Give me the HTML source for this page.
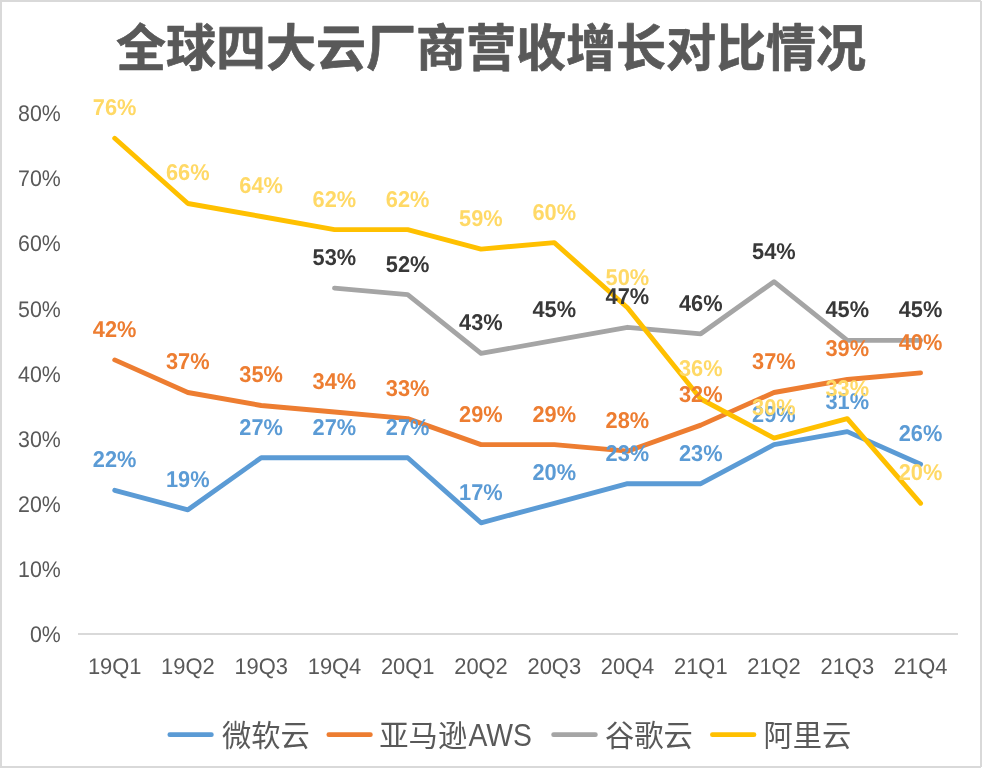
<!DOCTYPE html>
<html lang="zh-CN">
<head>
<meta charset="utf-8">
<title>全球四大云厂商营收增长对比情况</title>
<style>
html,body{margin:0;padding:0;background:#fff;}
body{width:982px;height:768px;overflow:hidden;position:relative;font-family:"Liberation Sans","Noto Sans CJK SC",sans-serif;}
#frame{position:absolute;left:0;top:0;width:978px;height:764px;border:2px solid #d9d9d9;background:#fff;}
.px{position:absolute;width:1px;height:1px;background:#fff;}
svg{position:absolute;left:0;top:0;display:block;}
.title{font-family:"Liberation Sans","Noto Sans CJK SC",sans-serif;font-weight:bold;font-size:50px;fill:#595959;stroke:#595959;stroke-width:0.7px;stroke-linejoin:round;}
.ax{font-family:"Liberation Sans","Noto Sans CJK SC",sans-serif;font-size:22.6px;fill:#595959;text-rendering:geometricPrecision;}
.lab{font-family:"Liberation Sans","Noto Sans CJK SC",sans-serif;font-size:22.8px;font-weight:bold;text-rendering:geometricPrecision;}
.leg{font-family:"Liberation Sans","Noto Sans CJK SC",sans-serif;font-size:29.3px;fill:#595959;}
.ln{fill:none;stroke-width:4.85;stroke-linecap:round;stroke-linejoin:round;}
</style>
</head>
<body>
<div id="frame"></div>
<div class="px" style="left:981px;top:0"></div>
<div class="px" style="left:981px;top:767px"></div>
<svg width="982" height="768" viewBox="0 0 982 768">
<text class="title" x="491" y="66.1" text-anchor="middle">全球四大云厂商营收增长对比情况</text>
<text class="ax" transform="translate(60.8,642.4) scale(0.945,1)" text-anchor="end">0%</text>
<text class="ax" transform="translate(60.8,577.2) scale(0.945,1)" text-anchor="end">10%</text>
<text class="ax" transform="translate(60.8,512.0) scale(0.945,1)" text-anchor="end">20%</text>
<text class="ax" transform="translate(60.8,446.8) scale(0.945,1)" text-anchor="end">30%</text>
<text class="ax" transform="translate(60.8,381.6) scale(0.945,1)" text-anchor="end">40%</text>
<text class="ax" transform="translate(60.8,316.5) scale(0.945,1)" text-anchor="end">50%</text>
<text class="ax" transform="translate(60.8,251.3) scale(0.945,1)" text-anchor="end">60%</text>
<text class="ax" transform="translate(60.8,186.1) scale(0.945,1)" text-anchor="end">70%</text>
<text class="ax" transform="translate(60.8,120.9) scale(0.945,1)" text-anchor="end">80%</text>
<line x1="78" y1="634.0" x2="958" y2="634.0" stroke="#d9d9d9" stroke-width="2"/>
<text class="ax" transform="translate(114.7,674.2) scale(0.97,1)" text-anchor="middle">19Q1</text>
<text class="ax" transform="translate(187.9,674.2) scale(0.97,1)" text-anchor="middle">19Q2</text>
<text class="ax" transform="translate(261.2,674.2) scale(0.97,1)" text-anchor="middle">19Q3</text>
<text class="ax" transform="translate(334.5,674.2) scale(0.97,1)" text-anchor="middle">19Q4</text>
<text class="ax" transform="translate(407.7,674.2) scale(0.97,1)" text-anchor="middle">20Q1</text>
<text class="ax" transform="translate(481.0,674.2) scale(0.97,1)" text-anchor="middle">20Q2</text>
<text class="ax" transform="translate(554.3,674.2) scale(0.97,1)" text-anchor="middle">20Q3</text>
<text class="ax" transform="translate(627.5,674.2) scale(0.97,1)" text-anchor="middle">20Q4</text>
<text class="ax" transform="translate(700.8,674.2) scale(0.97,1)" text-anchor="middle">21Q1</text>
<text class="ax" transform="translate(774.0,674.2) scale(0.97,1)" text-anchor="middle">21Q2</text>
<text class="ax" transform="translate(847.3,674.2) scale(0.97,1)" text-anchor="middle">21Q3</text>
<text class="ax" transform="translate(920.6,674.2) scale(0.97,1)" text-anchor="middle">21Q4</text>
<polyline class="ln" stroke="#5B9BD5" points="114.7,490.3 187.9,509.8 261.2,457.7 334.5,457.7 407.7,457.7 481.0,522.8 554.3,503.3 627.5,483.7 700.8,483.7 774.0,444.6 847.3,431.6 920.6,464.2"/>
<polyline class="ln" stroke="#ED7D31" points="114.7,359.9 187.9,392.5 261.2,405.5 334.5,412.0 407.7,418.6 481.0,444.6 554.3,444.6 627.5,451.2 700.8,425.1 774.0,392.5 847.3,379.5 920.6,372.9"/>
<polyline class="ln" stroke="#A5A5A5" points="334.5,288.2 407.7,294.7 481.0,353.4 554.3,340.4 627.5,327.3 700.8,333.8 774.0,281.7 847.3,340.4 920.6,340.4"/>
<polyline class="ln" stroke="#FFC000" points="114.7,138.3 187.9,203.5 261.2,216.5 334.5,229.6 407.7,229.6 481.0,249.1 554.3,242.6 627.5,307.8 700.8,399.0 774.0,438.1 847.3,418.6 920.6,503.3"/>
<g class="lab" fill="#5B9BD5" text-anchor="middle">
<text transform="translate(114.6,467.2) scale(0.955,1)">22%</text>
<text transform="translate(187.8,486.7) scale(0.955,1)">19%</text>
<text transform="translate(261.1,434.6) scale(0.955,1)">27%</text>
<text transform="translate(334.4,434.6) scale(0.955,1)">27%</text>
<text transform="translate(407.6,434.6) scale(0.955,1)">27%</text>
<text transform="translate(480.9,499.7) scale(0.955,1)">17%</text>
<text transform="translate(554.2,480.2) scale(0.955,1)">20%</text>
<text transform="translate(627.4,460.6) scale(0.955,1)">23%</text>
<text transform="translate(700.7,460.6) scale(0.955,1)">23%</text>
<text transform="translate(773.9,421.5) scale(0.955,1)">29%</text>
<text transform="translate(847.2,408.5) scale(0.955,1)">31%</text>
<text transform="translate(920.5,441.1) scale(0.955,1)">26%</text>
</g>
<g class="lab" fill="#ED7D31" text-anchor="middle">
<text transform="translate(114.6,336.8) scale(0.955,1)">42%</text>
<text transform="translate(187.8,369.4) scale(0.955,1)">37%</text>
<text transform="translate(261.1,382.4) scale(0.955,1)">35%</text>
<text transform="translate(334.4,388.9) scale(0.955,1)">34%</text>
<text transform="translate(407.6,395.5) scale(0.955,1)">33%</text>
<text transform="translate(480.9,421.5) scale(0.955,1)">29%</text>
<text transform="translate(554.2,421.5) scale(0.955,1)">29%</text>
<text transform="translate(627.4,428.1) scale(0.955,1)">28%</text>
<text transform="translate(700.7,402.0) scale(0.955,1)">32%</text>
<text transform="translate(773.9,369.4) scale(0.955,1)">37%</text>
<text transform="translate(847.2,356.4) scale(0.955,1)">39%</text>
<text transform="translate(920.5,349.8) scale(0.955,1)">40%</text>
</g>
<g class="lab" fill="#383838" text-anchor="middle">
<text transform="translate(334.4,265.1) scale(0.955,1)">53%</text>
<text transform="translate(407.6,271.6) scale(0.955,1)">52%</text>
<text transform="translate(480.9,330.3) scale(0.955,1)">43%</text>
<text transform="translate(554.2,317.3) scale(0.955,1)">45%</text>
<text transform="translate(627.4,304.2) scale(0.955,1)">47%</text>
<text transform="translate(700.7,310.7) scale(0.955,1)">46%</text>
<text transform="translate(773.9,258.6) scale(0.955,1)">54%</text>
<text transform="translate(847.2,317.3) scale(0.955,1)">45%</text>
<text transform="translate(920.5,317.3) scale(0.955,1)">45%</text>
</g>
<g class="lab" fill="#FFD966" text-anchor="middle">
<text transform="translate(114.6,115.2) scale(0.955,1)">76%</text>
<text transform="translate(187.8,180.4) scale(0.955,1)">66%</text>
<text transform="translate(261.1,193.4) scale(0.955,1)">64%</text>
<text transform="translate(334.4,206.5) scale(0.955,1)">62%</text>
<text transform="translate(407.6,206.5) scale(0.955,1)">62%</text>
<text transform="translate(480.9,226.0) scale(0.955,1)">59%</text>
<text transform="translate(554.2,219.5) scale(0.955,1)">60%</text>
<text transform="translate(627.4,284.7) scale(0.955,1)">50%</text>
<text transform="translate(700.7,375.9) scale(0.955,1)">36%</text>
<text transform="translate(773.9,415.0) scale(0.955,1)">30%</text>
<text transform="translate(847.2,395.5) scale(0.955,1)">33%</text>
<text transform="translate(920.5,480.2) scale(0.955,1)">20%</text>
</g>
<line x1="169.8" y1="734.7" x2="211.4" y2="734.7" stroke="#5B9BD5" stroke-width="4.7" stroke-linecap="round"/>
<text class="leg" x="222.0" y="746.1">微软云</text>
<line x1="328.8" y1="734.7" x2="370.4" y2="734.7" stroke="#ED7D31" stroke-width="4.7" stroke-linecap="round"/>
<text class="leg" x="379.3" y="746.1">亚马逊</text>
<text class="leg" style="font-size:32px" transform="translate(468.4,746.1) scale(0.885,1)">AWS</text>
<line x1="553.6" y1="734.7" x2="595.4" y2="734.7" stroke="#A5A5A5" stroke-width="4.7" stroke-linecap="round"/>
<text class="leg" x="604.9" y="746.1">谷歌云</text>
<line x1="712.4" y1="734.7" x2="754.0" y2="734.7" stroke="#FFC000" stroke-width="4.7" stroke-linecap="round"/>
<text class="leg" x="763.5" y="746.1">阿里云</text>
</svg>
</body>
</html>
